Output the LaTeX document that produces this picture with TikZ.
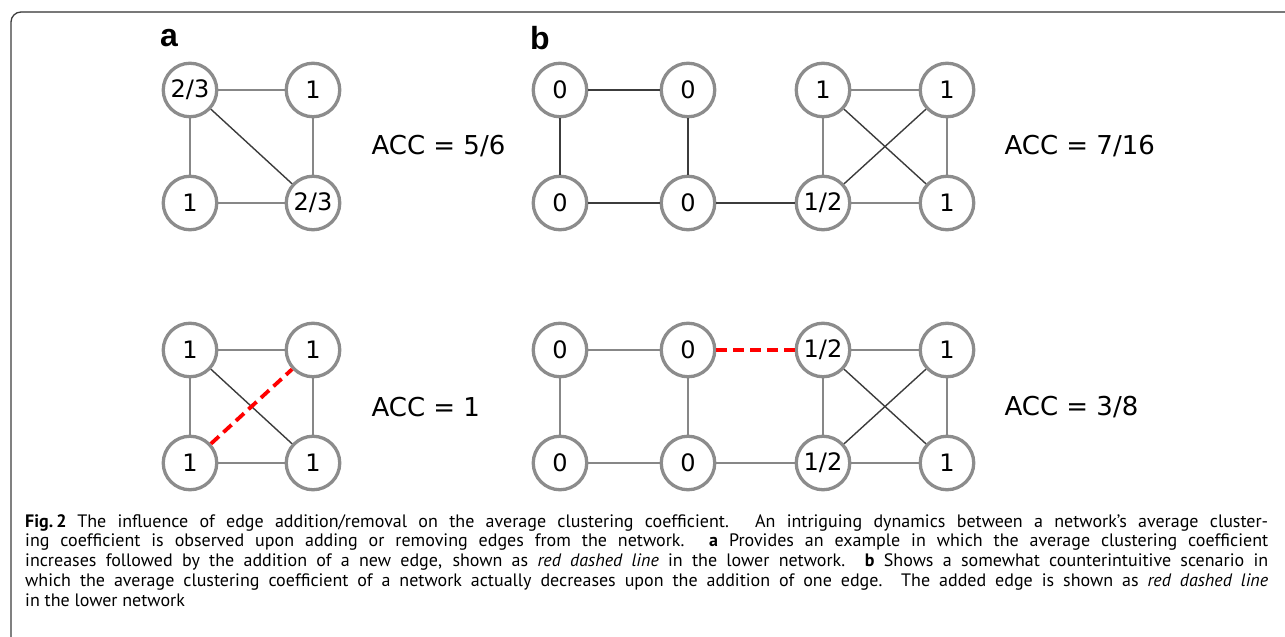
\documentclass[tikz,border=0pt]{standalone}
\usepackage{fontspec}
\setmainfont{PT Sans}
\newfontfamily\nodefont{DejaVu Sans}
\newfontfamily\panelfont{Liberation Sans}
\usetikzlibrary{automata}
\definecolor{ringgray}{RGB}{140,140,140}
\definecolor{edgegray}{RGB}{135,135,135}
\definecolor{darkedge}{RGB}{60,60,60}
\definecolor{framegray}{RGB}{120,120,120}
\tikzset{
x=1pt,
y=-1pt,
node distance=123pt,
every state/.style={draw=ringgray, line width=3.3pt, fill=white, minimum size=53.5pt, inner sep=0pt,
  font=\nodefont\fontsize{24}{24}\selectfont},
plain/.style={draw=edgegray, line width=2.6pt},
dark/.style={draw=darkedge, line width=2.3pt},
diag/.style={draw=darkedge, line width=1.4pt},
added/.style={draw=red, line width=3.8pt, dash pattern=on 11pt off 6pt},
acc/.style={anchor=west, font=\nodefont\fontsize{26}{26}\selectfont},
panel/.style={font=\panelfont\bfseries\fontsize{32}{32}\selectfont},
}

\begin{document}
\begin{tikzpicture}
    \useasboundingbox (0,0) rectangle (1285,637);

    % frame
    \draw[darkedge, line width=1.3pt] (11,637) -- (11,22) arc(180:270:10);
    \draw[framegray, line width=1.8pt] (21,12) -- (1285,12);

    \node[panel] (pa) at (169,38) {a};
    \node[panel] (pb) at (540,38) {b};

    % a, upper network
    \node[state] (a1) at (190,90) {2/3};
    \node[state,right of=a1] (a2) {1};
    \node[state,node distance=113pt,below of=a1] (a3) {1};
    \node[state,right of=a3] (a4) {2/3};
    \node[acc] (acca) at (368,146) {ACC = 5/6};

    \draw (a1) edge[plain] (a2);
    \draw (a1) edge[plain] (a3);
    \draw (a2) edge[plain] (a4);
    \draw (a3) edge[plain] (a4);
    \draw (a1) edge[diag] (a4);

    % a, lower network
    \node[state] (c1) at (190,350) {1};
    \node[state,right of=c1] (c2) {1};
    \node[state,node distance=113pt,below of=c1] (c3) {1};
    \node[state,right of=c3] (c4) {1};
    \node[acc] (accc) at (368,407) {ACC = 1};

    \draw (c1) edge[plain] (c2);
    \draw (c1) edge[plain] (c3);
    \draw (c2) edge[plain] (c4);
    \draw (c3) edge[plain] (c4);
    \draw (c1) edge[diag] (c4);
    \draw (c3) edge[added] (c2);

    % b, upper network
    \node[state] (b1) at (560,90) {0};
    \node[state,node distance=128pt,right of=b1] (b2) {0};
    \node[state,node distance=135pt,right of=b2] (b3) {1};
    \node[state,node distance=124pt,right of=b3] (b4) {1};
    \node[state,node distance=113pt,below of=b1] (b5) {0};
    \node[state,node distance=113pt,below of=b2] (b6) {0};
    \node[state,node distance=113pt,below of=b3] (b7) {1/2};
    \node[state,node distance=113pt,below of=b4] (b8) {1};
    \node[acc] (accb) at (1001,146) {ACC = 7/16};

    \draw (b1) edge[dark] (b2);
    \draw (b1) edge[dark] (b5);
    \draw (b2) edge[dark] (b6);
    \draw (b5) edge[dark] (b6);
    \draw (b6) edge[dark] (b7);
    \draw (b3) edge[plain] (b4);
    \draw (b3) edge[plain] (b7);
    \draw (b4) edge[plain] (b8);
    \draw (b7) edge[plain] (b8);
    \draw (b3) edge[diag] (b8);
    \draw (b7) edge[diag] (b4);

    % b, lower network
    \node[state] (d1) at (560,350) {0};
    \node[state,node distance=128pt,right of=d1] (d2) {0};
    \node[state,node distance=135pt,right of=d2] (d3) {1/2};
    \node[state,node distance=124pt,right of=d3] (d4) {1};
    \node[state,node distance=113pt,below of=d1] (d5) {0};
    \node[state,node distance=113pt,below of=d2] (d6) {0};
    \node[state,node distance=113pt,below of=d3] (d7) {1/2};
    \node[state,node distance=113pt,below of=d4] (d8) {1};
    \node[acc] (accd) at (1001,407) {ACC = 3/8};

    \draw (d1) edge[plain] (d2);
    \draw (d1) edge[plain] (d5);
    \draw (d2) edge[plain] (d6);
    \draw (d5) edge[plain] (d6);
    \draw (d6) edge[plain] (d7);
    \draw (d2) edge[added] (d3);
    \draw (d3) edge[plain] (d4);
    \draw (d3) edge[plain] (d7);
    \draw (d4) edge[plain] (d8);
    \draw (d7) edge[plain] (d8);
    \draw (d3) edge[diag] (d8);
    \draw (d7) edge[diag] (d4);

    % caption
    \node[anchor=north west, inner sep=0pt, text width=1243pt, align=justify,
      font=\fontsize{18}{19.8}\selectfont] (cap) at (25,514)
      {\hyphenpenalty=10000\textbf{Fig.\,2}\hspace{0.6em}The influence of edge addition/removal on the average clustering coefficient. An intriguing dynamics between a network’s average cluster-\linebreak
      ing coefficient is observed upon adding or removing edges from the network. \textbf{a} Provides an example in which the average clustering coefficient\linebreak
      increases followed by the addition of a new edge, shown as \textit{red dashed line} in the lower network. \textbf{b} Shows a somewhat counterintuitive scenario in\linebreak
      which the average clustering coefficient of a network actually decreases upon the addition of one edge. The added edge is shown as \textit{red dashed line}\linebreak
      in the lower network};

\end{tikzpicture}
\end{document}
